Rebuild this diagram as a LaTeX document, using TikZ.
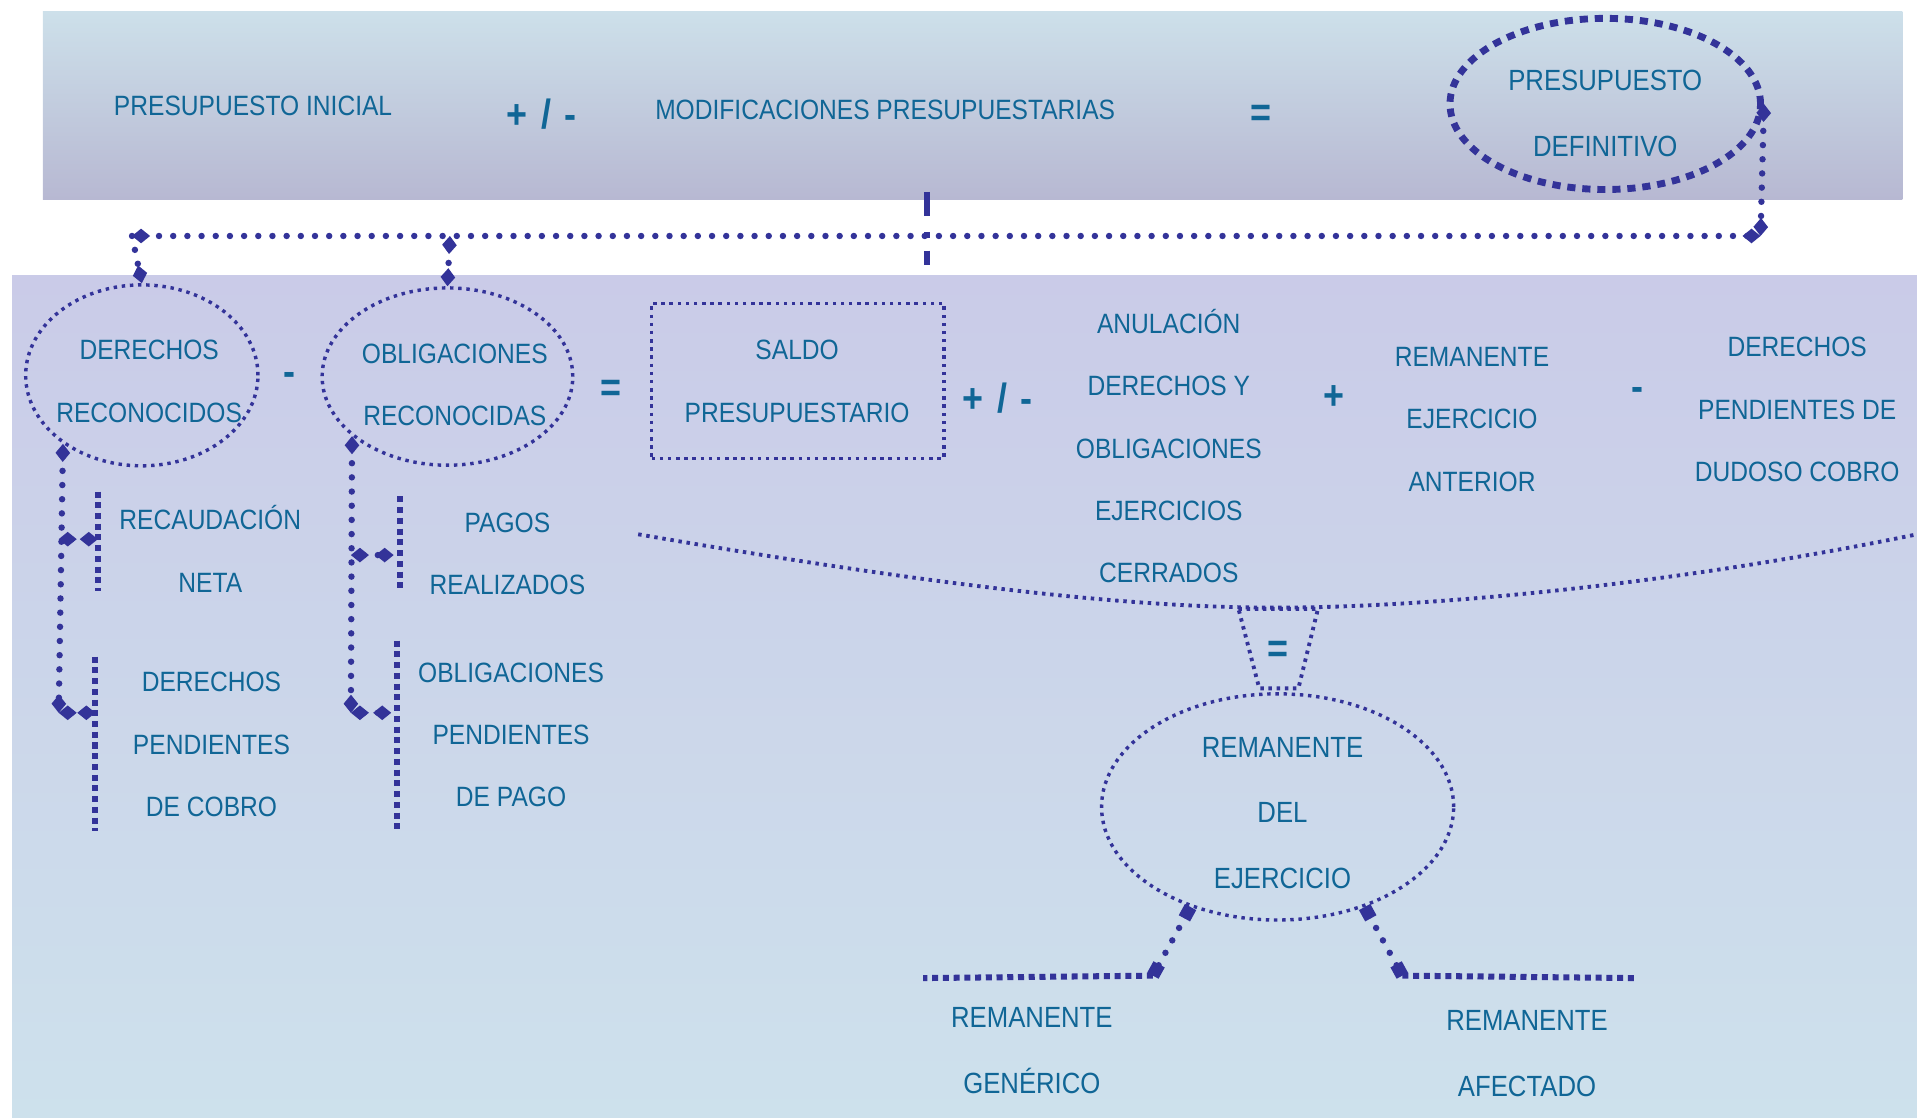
\documentclass[tikz,border=0pt]{standalone}
\usepackage{fontspec}
\setmainfont{Liberation Sans}[FakeStretch=0.88]
\usetikzlibrary{arrows.meta,shapes.geometric,positioning}
\definecolor{txtblue}{RGB}{16,102,150}
\definecolor{lineblue}{RGB}{51,51,153}
\definecolor{topA}{RGB}{205,224,234}
\definecolor{topB}{RGB}{183,184,210}
\definecolor{lowA}{RGB}{202,203,232}
\definecolor{lowB}{RGB}{205,225,236}
\tikzset{
  lbl/.style={text=txtblue, font=\fontsize{6.5}{14.5}\selectfont, align=center, inner sep=0pt},
  lblwide/.style={lbl, font=\fontsize{6.8}{15.3}\selectfont},
  op/.style={text=txtblue, font=\fontsize{9.5}{10}\selectfont\bfseries, inner sep=0pt},
  dotline/.style={draw=lineblue, line width=1.5pt, dash pattern=on 0pt off 3.3pt, line cap=round},
  sqdots/.style={draw=lineblue, line width=0.8pt, dash pattern=on 0.8pt off 1.1pt},
  brack/.style={draw=lineblue, line width=1.4pt, dash pattern=on 1.4pt off 1.1pt},
  bigdash/.style={draw=lineblue, line width=1.6pt, dash pattern=on 1.9pt off 1.6pt},
  oval/.style={ellipse, sqdots, inner sep=0pt},
  dia/.tip={Diamond[length=4.2pt,width=3.4pt]},
  sq/.tip={Square[length=3pt,width=3pt]},
}
\begin{document}
\begin{tikzpicture}
  \useasboundingbox (0,0) rectangle (15.68,-9.14);
  % fondos
  \shade[top color=topA, bottom color=topB] (0.35,-0.09) rectangle (15.56,-1.63);
  \shade[top color=lowA, bottom color=lowB] (0.10,-2.25) rectangle (15.68,-9.14);
  % fila superior
  \node[lbl] (preini) at (2.07,-0.87) {PRESUPUESTO INICIAL};
  \node[op] (op1) at (4.43,-0.93) {+\,\,/\,\,-};
  \node[lbl] (modif) at (7.24,-0.90) {MODIFICACIONES PRESUPUESTARIAS};
  \node[op] (eq1) at (10.31,-0.95) {=};
  \node[ellipse, bigdash, minimum width=2.54cm, minimum height=1.40cm, inner sep=0pt] (defin) at (13.13,-0.85) {};
  \node[lblwide] (defin-txt) at (13.13,-0.93) {PRESUPUESTO\\DEFINITIVO};
  % fila central
  \node[oval, minimum width=1.90cm, minimum height=1.48cm] (derechos) at (1.16,-3.07) {};
  \node[lbl] (derechos-txt) at (1.22,-3.12) {DERECHOS\\RECONOCIDOS};
  \node[op] (minus1) at (2.37,-3.10) {-};
  \node[oval, minimum width=2.05cm, minimum height=1.45cm] (oblig) at (3.66,-3.08) {};
  \node[lbl] (oblig-txt) at (3.72,-3.15) {OBLIGACIONES\\RECONOCIDAS};
  \node[op] (eq2) at (5.00,-3.20) {=};
  \node[rectangle, sqdots, minimum width=2.39cm, minimum height=1.27cm, inner sep=0pt] (saldo) at (6.525,-3.115) {};
  \node[lbl] (saldo-txt) at (6.52,-3.12) {SALDO\\PRESUPUESTARIO};
  \node[op] (op2) at (8.16,-3.26) {+\,\,/\,\,-};
  \node[lbl] (anul) at (9.56,-3.65) {ANULACIÓN\\DERECHOS Y\\OBLIGACIONES\\EJERCICIOS\\CERRADOS};
  \node[op] (plus1) at (10.91,-3.25) {+};
  \node[lbl] (remant) at (12.04,-3.43) {REMANENTE\\EJERCICIO\\ANTERIOR};
  \node[op] (minus2) at (13.39,-3.22) {-};
  \node[lbl] (dudoso) at (14.70,-3.35) {DERECHOS\\PENDIENTES DE\\DUDOSO COBRO};
  % desgloses
  \node[lbl] (recaud) at (1.72,-4.49) {RECAUDACIÓN\\NETA};
  \node[lbl] (dpend) at (1.73,-6.09) {DERECHOS\\PENDIENTES\\DE COBRO};
  \node[lbl] (pagos) at (4.15,-4.53) {PAGOS\\REALIZADOS};
  \node[lbl] (opend) at (4.18,-6.01) {OBLIGACIONES\\PENDIENTES\\DE PAGO};
  % remanente del ejercicio
  \node[op] (eq3) at (10.45,-5.33) {=};
  \node[oval, minimum width=2.88cm, minimum height=1.85cm] (remej) at (10.45,-6.60) {};
  \node[lblwide] (remej-txt) at (10.49,-6.65) {REMANENTE\\DEL\\EJERCICIO};
  \node[lblwide] (generico) at (8.44,-8.59) {REMANENTE\\GENÉRICO};
  \node[lblwide] (afectado) at (12.49,-8.62) {REMANENTE\\AFECTADO};
  % puntos de union
  \coordinate (hl) at (1.08,-1.93);
  \coordinate (hm) at (3.68,-1.93);
  \coordinate (hr) at (14.40,-1.93);
  \coordinate (tickA) at (7.58,-1.57);
  \coordinate (tickB) at (7.58,-2.17);
  \coordinate (d1) at (0.48,-4.41);
  \coordinate (b1) at (0.80,-4.41);
  \coordinate (d2) at (0.48,-5.83);
  \coordinate (b2) at (0.78,-5.83);
  \coordinate (o1) at (2.87,-4.54);
  \coordinate (p1) at (3.22,-4.54);
  \coordinate (o2) at (2.87,-5.83);
  \coordinate (p2) at (3.20,-5.83);
  \coordinate (gl) at (9.43,-7.98);
  \coordinate (gr) at (7.55,-8.00);
  \coordinate (al) at (11.47,-7.98);
  \coordinate (ar) at (13.37,-8.00);
  % conectores superiores
  \draw[dotline, {dia}-{dia}] (hl) -- (hr);
  \draw[dotline, {dia}-{dia}] (defin.east) -- (hr);
  \draw[dotline, -{dia}] (hl) -- (derechos.north);
  \draw[dotline, {dia}-{dia}] (hm) -- (oblig.north);
  \draw[draw=lineblue, line width=1.4pt, dash pattern=on 0.20cm off 0.13cm on 0.05cm off 0.10cm on 0.12cm] (tickA) -- (tickB);
  % desglose derechos
  \draw[dotline, {dia}-{dia}] (derechos.221) -- (d2);
  \draw[dotline, {dia}-{dia}] (d1) -- (b1);
  \draw[dotline, {dia}-{dia}] (d2) -- (b2);
  \draw[brack] (0.80,-4.02) -- (0.80,-4.83);
  \draw[brack] (0.78,-5.37) -- (0.78,-6.80);
  % desglose obligaciones
  \draw[dotline, {dia}-{dia}] (oblig.212) -- (o2);
  \draw[dotline, {dia}-{dia}] (o1) -- (p1);
  \draw[dotline, {dia}-{dia}] (o2) -- (p2);
  \draw[brack] (3.27,-4.06) -- (3.27,-4.85);
  \draw[brack] (3.25,-5.24) -- (3.25,-6.80);
  % llave inferior y embudo
  \draw[sqdots, line width=0.9pt] (5.22,-4.37) .. controls (8.0,-4.85) and (9.4,-4.97) .. (10.45,-4.97)
    .. controls (11.6,-4.97) and (13.6,-4.80) .. (15.68,-4.37);
  \draw[sqdots, line width=0.9pt] (10.13,-4.98) -- (10.78,-4.98) -- (10.62,-5.63) -- (10.30,-5.63) -- cycle;
  % ramas del remanente
  \draw[dotline, {sq}-{sq}] (remej.229) -- (gl);
  \draw[brack] (gl) -- (gr);
  \draw[dotline, {sq}-{sq}] (remej.311) -- (al);
  \draw[brack] (al) -- (ar);
\end{tikzpicture}
\end{document}
